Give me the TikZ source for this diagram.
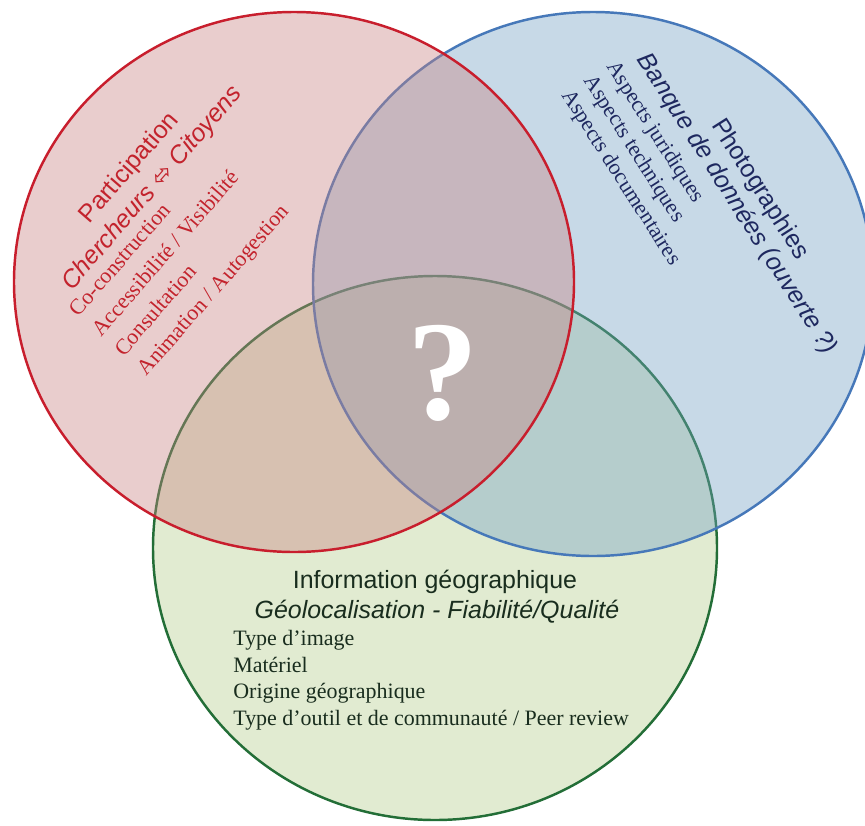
\documentclass[tikz,border=0pt]{standalone}
\usepackage{fontspec}
\setmainfont{Liberation Serif}
\setsansfont{Liberation Sans}
\newfontfamily\symbfont{DejaVu Sans}
\definecolor{rouge}{RGB}{200,30,45}
\definecolor{rougefond}{RGB}{200,130,130}
\definecolor{bleu}{RGB}{70,120,185}
\definecolor{bleufond}{RGB}{117,162,197}
\definecolor{vert}{RGB}{35,110,55}
\definecolor{vertfond}{RGB}{180,205,142}
\definecolor{texterouge}{RGB}{195,35,45}
\definecolor{textebleu}{RGB}{30,40,95}
\definecolor{textevert}{RGB}{25,45,30}
\tikzset{
  cercle/.style={line width=1.4pt, fill opacity=0.4},
  titre/.style={font=\sffamily\fontsize{14.2}{17}\selectfont, anchor=base, inner sep=0pt},
  soustitre/.style={titre, font=\sffamily\itshape\fontsize{14.2}{17}\selectfont},
  liste/.style={font=\fontsize{12.5}{15}\selectfont, anchor=base west, inner sep=0pt}
}
\begin{document}
\begin{tikzpicture}[x=0.02cm, y=-0.02cm]
\useasboundingbox (0,0) rectangle (865,825);
\clip (0,0) rectangle (865,825);
\fill[white] (0,0) rectangle (865,825);

\draw[cercle, draw=vert, fill=vertfond] (435,548) ellipse [x radius=282, y radius=272];
\draw[cercle, draw=bleu, fill=bleufond] (593,284) ellipse [x radius=280, y radius=272];
\draw[cercle, draw=rouge, fill=rougefond] (294,282) ellipse [x radius=280, y radius=270];

\begin{scope}[rotate=49, transform shape]
  \node[titre, text=texterouge] (participation) at (-42,214.6) {Participation};
  \node[soustitre, text=texterouge] (chercheurs) at (-42,245.3) {Chercheurs {\symbfont ⬄} Citoyens};
  \node[liste, text=texterouge] (coconstruction) at (-188.5,268) {Co-construction};
  \node[liste, text=texterouge] (accessibilite) at (-188.5,298) {Accessibilité / Visibilité};
  \node[liste, text=texterouge] (consultation) at (-188.5,328) {Consultation};
  \node[liste, text=texterouge] (animation) at (-188.5,358) {Animation / Autogestion};
\end{scope}

\begin{scope}[rotate=-57.5, transform shape]
  \node[titre, text=textebleu] (photographies) at (568,-532.5) {Photographies};
  \node[soustitre, text=textebleu] (banque) at (568,-504.8) {Banque de données (ouverte ?)};
  \node[liste, text=textebleu] (juridiques) at (381.5,-475.7) {Aspects juridiques};
  \node[liste, text=textebleu] (techniques) at (381.5,-449) {Aspects techniques};
  \node[liste, text=textebleu] (documentaires) at (381.5,-422.5) {Aspects documentaires};
\end{scope}

\node[titre, text=textevert] (information) at (435,588) {Information géographique};
\node[soustitre, text=textevert] (geolocalisation) at (437,618) {Géolocalisation - Fiabilité/Qualité};
\node[liste, text=textevert] (typeimage) at (233,645) {Type d’image};
\node[liste, text=textevert] (materiel) at (233,672) {Matériel};
\node[liste, text=textevert] (origine) at (233,698) {Origine géographique};
\node[liste, text=textevert] (typeoutil) at (233,725) {Type d’outil et de communauté / Peer review};

\node[font=\bfseries\fontsize{81}{81}\selectfont, text=white, inner sep=0pt] (question) at (443,373) {?};
\end{tikzpicture}
\end{document}
